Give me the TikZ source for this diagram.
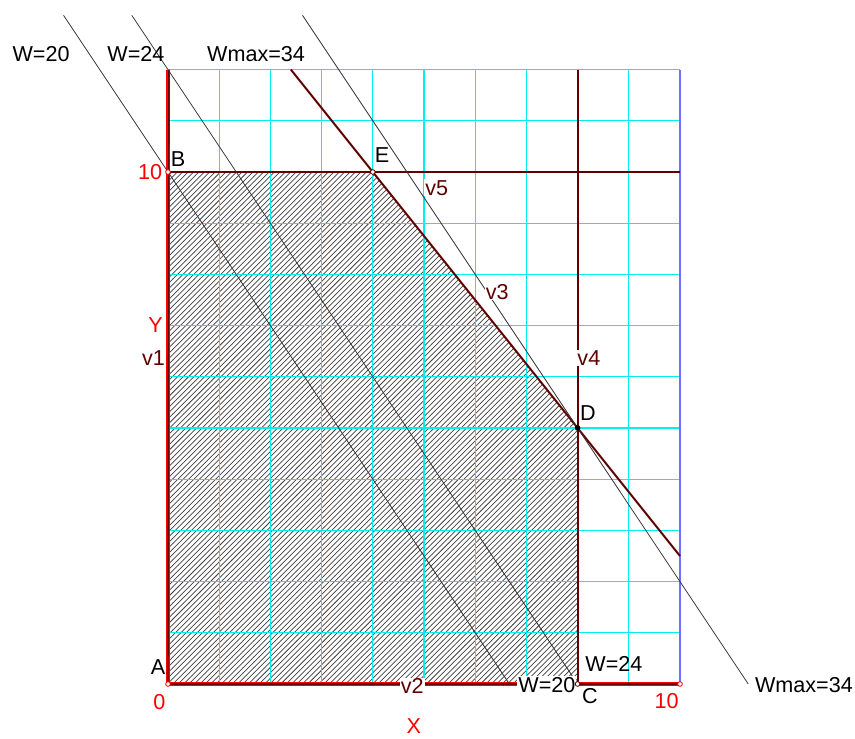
\documentclass[tikz,border=0pt]{standalone}
\usepackage{fontspec}
\setmainfont{Liberation Sans}
\usetikzlibrary{patterns}
\definecolor{maroon}{HTML}{600000}
\definecolor{gridcyan}{HTML}{00F0F0}
\definecolor{edgeblue}{HTML}{7070FF}
\definecolor{axisred}{HTML}{FF0000}

\begin{document}
\begin{tikzpicture}[every node/.style={font=\fontsize{12}{14}\selectfont,inner sep=0.5pt}, cons/.style={draw=maroon,line width=1.1pt}, wline/.style={draw=black!80,line width=0.45pt}, vlab/.style={text=maroon,fill=white}, rlab/.style={text=axisred}, pt/.style={circle,draw=maroon,fill=white,inner sep=0pt,minimum size=2.6pt,line width=0.45pt}]
\useasboundingbox (-3.281,-1.055) rectangle (13.418,13.359);
\coordinate (A) at (0,0); \coordinate (B) at (0,10); \coordinate (E) at (4,10);
\coordinate (D) at (8,5); \coordinate (C) at (8,0); \coordinate (X10) at (10,0);
% feasible region
\fill[pattern=north east lines,pattern color=black!75] (A)--(B)--(E)--(D)--(C)--cycle;
% grid
\foreach \x in {1,...,9} \draw[gridcyan,line width=0.65pt] (\x,0)--(\x,12);
\foreach \y in {1,...,12} \draw[gridcyan,line width=0.65pt] (0,\y)--(10,\y);
\draw[edgeblue,line width=1pt] (X10)--(10,12);
% axes and constraints
\draw[axisred,line width=1.8pt] (0,12)--(A)--(X10);
\draw[cons,line width=0.8pt,xshift=0.5pt] (A)--(0,12);
\draw[cons,line width=0.8pt,yshift=0.5pt] (A)--(X10);
\draw[cons] (2.4,12)--(10,2.5);
\draw[cons] (8,12)--(C);
\draw[cons] (B)--(10,10);
% objective lines
\draw[wline] (-2.04,13.06)--(6.667,0);
\draw[wline] (-0.707,13.06)--(C);
\draw[wline] (2.627,13.06)--(11.333,0);
% labels
\node (w20t) at (-2.48,12.30) {W=20};
\node (w24t) at (-0.625,12.30) {W=24};
\node (wmaxt) at (1.72,12.30) {Wmax=34};
\node (lB) at (0.195,10.25) {B};
\node (lE) at (4.18,10.33) {E};
\node[rlab] (y10) at (-0.35,10.0) {10};
\node[vlab] (v5) at (5.25,9.69) {v5};
\node[vlab] (v3) at (6.43,7.66) {v3};
\node[rlab] (ly) at (-0.244,7.01) {Y};
\node[vlab] (v1) at (-0.283,6.37) {v1};
\node[vlab] (v4) at (8.22,6.37) {v4};
\node (lD) at (8.20,5.30) {D};
\node (w24b) at (8.71,0.40) {W=24};
\node (lA) at (-0.195,0.33) {A};
\node[fill=white] (w20b) at (7.40,-0.02) {W=20};
\node[vlab] (v2) at (4.77,-0.04) {v2};
\node (lC) at (8.24,-0.23) {C};
\node[rlab] (x0) at (-0.17,-0.35) {0};
\node[rlab] (x10) at (9.74,-0.34) {10};
\node (wmaxb) at (12.42,-0.02) {Wmax=34};
\node[rlab] (lx) at (4.80,-0.83) {X};
% points
\node[pt,draw=axisred] (pA) at (A) {};
\node[pt,draw=axisred] (pB) at (B) {};
\node[pt,draw=axisred] (p10) at (X10) {};
\node[pt] (pE) at (E) {};
\node[pt] (pC) at (C) {};
\node[pt,fill=black,draw=black] (pD) at (D) {};
\end{tikzpicture}
\end{document}
